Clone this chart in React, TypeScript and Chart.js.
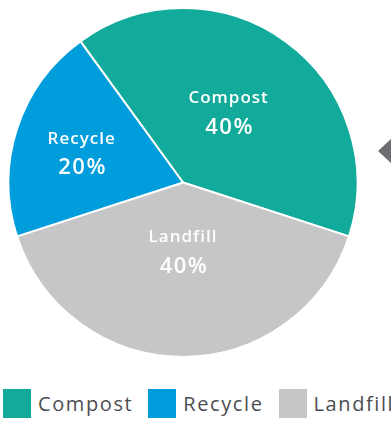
import React, { useEffect, useRef } from "react";
import { Chart, registerables } from "chart.js";

Chart.register(...registerables);

const categories = ["Compost", "Landfill", "Recycle"];
const values = [40, 40, 20];
const colors = ["#12aa9a", "#c6c6c8", "#009ddc"];
const legendOrder = ["Compost", "Recycle", "Landfill"];
const labelRadius = [0.48, 0.395, 0.605];
const labelAngleShift = [-3, 0, -1.8];

const labelPlugin = {
  id: "sliceLabels",
  afterDatasetsDraw(chart: any) {
    const ctx = chart.ctx;
    const meta = chart.getDatasetMeta(0);
    const total = values.reduce((a, b) => a + b, 0);
    meta.data.forEach((arc: any, i: number) => {
      const { x, y, startAngle, endAngle, outerRadius } = arc.getProps(
        ["x", "y", "startAngle", "endAngle", "outerRadius"],
        true
      );
      const mid = (startAngle + endAngle) / 2 + (labelAngleShift[i] * Math.PI) / 180;
      const r = outerRadius * labelRadius[i];
      const cx = x + Math.cos(mid) * r;
      const cy = y + Math.sin(mid) * r;
      ctx.save();
      ctx.fillStyle = "#ffffff";
      ctx.textAlign = "center";
      ctx.textBaseline = "middle";
      (ctx as any).letterSpacing = "1px";
      ctx.font = "600 17px 'Open Sans'";
      ctx.fillText(categories[i], cx, cy - 14);
      (ctx as any).letterSpacing = "1.5px";
      ctx.font = "600 22px 'Open Sans'";
      ctx.fillText(Math.round((values[i] / total) * 100) + "%", cx + 1, cy + 15);
      ctx.restore();
    });
  },
};

export default function App() {
  const ref = useRef<HTMLCanvasElement>(null);
  useEffect(() => {
    document.body.style.margin = "0";
    const chart = new Chart(ref.current!, {
      type: "pie",
      data: {
        labels: categories,
        datasets: [
          {
            data: values,
            backgroundColor: colors,
            borderColor: "#ffffff",
            borderWidth: 2,
          },
        ],
      },
      options: {
        animation: false,
        responsive: false,
        rotation: -36,
        layout: { padding: { left: 7, top: 7, right: 32, bottom: 12 } },
        plugins: { legend: { display: false }, tooltip: { enabled: false } },
      },
      plugins: [labelPlugin],
    });
    return () => chart.destroy();
  }, []);

  return (
    <div style={{ position: "relative", width: 391, height: 421, overflow: "hidden", background: "#fff" }}>
      <canvas ref={ref} width={391} height={370} style={{ position: "absolute", left: 0, top: 0 }} />
      <div
        style={{
          position: "absolute",
          left: 378,
          top: 138,
          width: 0,
          height: 0,
          borderTop: "13px solid transparent",
          borderBottom: "13px solid transparent",
          borderRight: "14px solid #6d6e71",
        }}
      />
      <div
        style={{
          position: "absolute",
          left: 3,
          top: 389,
          display: "flex",
          alignItems: "center",
          fontFamily: "'Open Sans'",
          fontSize: 20,
          letterSpacing: "1.6px",
          color: "#4d4d4f",
          whiteSpace: "nowrap",
        }}
      >
        {legendOrder.map((name, i) => (
          <div key={name} style={{ display: "flex", alignItems: "center", marginRight: i < 2 ? 15 : 0 }}>
            <div
              style={{
                width: 28,
                height: 29,
                background: colors[categories.indexOf(name)],
                marginRight: 7,
              }}
            />
            <span style={{ lineHeight: "29px" }}>{name}</span>
          </div>
        ))}
      </div>
    </div>
  );
}
